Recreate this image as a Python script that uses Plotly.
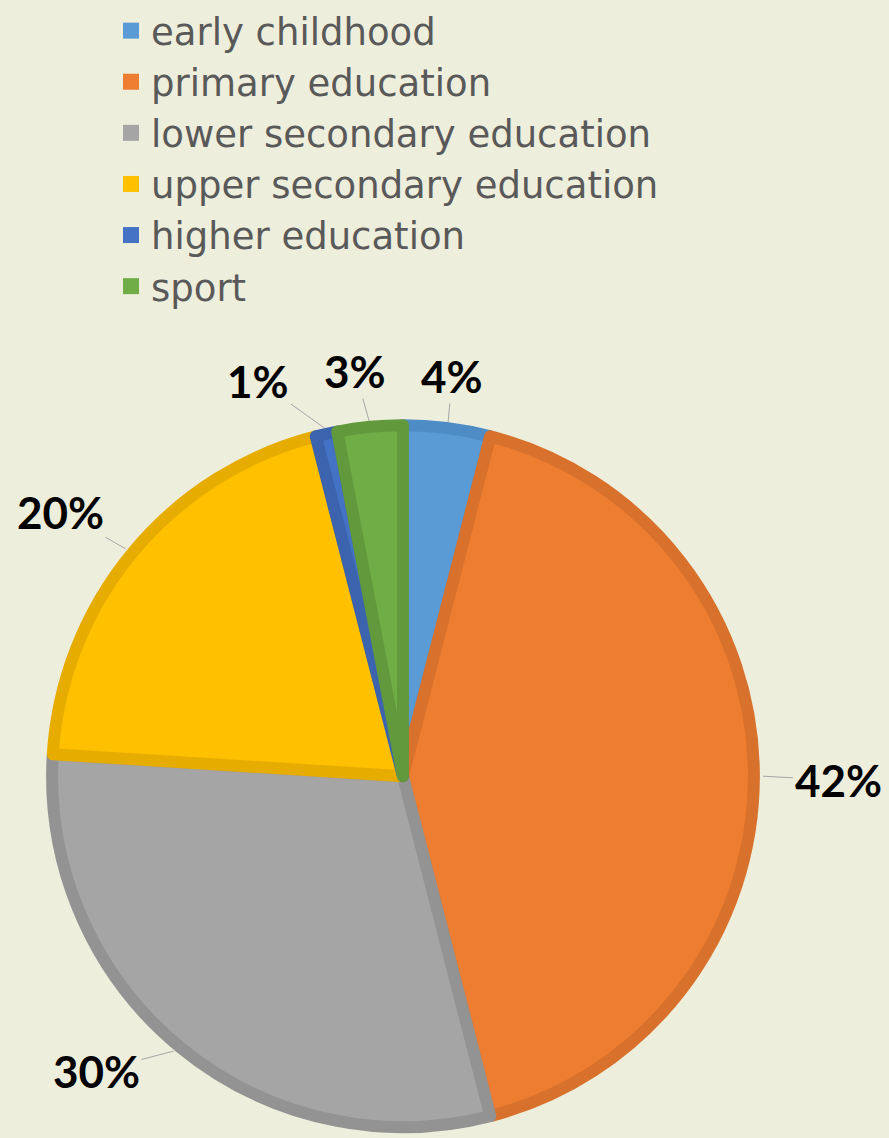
import math
import plotly.graph_objects as go

# ---- data ----
categories = ["early childhood", "primary education", "lower secondary education",
              "upper secondary education", "higher education", "sport"]
values = [4, 42, 30, 20, 1, 3]
fill_colors = ["#5B9BD5", "#ED7D31", "#A5A5A5", "#FFC000", "#4472C4", "#70AD47"]
line_colors = ["#4E8CC6", "#D8712C", "#939393", "#E6AC00", "#3B63AE", "#63993D"]
# label text offsets (pixels) from the leader-line tip on the slice edge
label_dx = [4, 75, -77, -65, -66, -14]
label_dy = [-46, 4, 20, -37, -47, -50]

W, H = 889, 1138
BG = "#EEEEDC"
CX, CY = 403, 773     # pie centre in pixels
R_OUT = 360           # outer edge of pie incl. border
LW = 12               # border width
R = R_OUT - LW / 2    # path radius

dom_x = [(CX - R) / W, (CX + R) / W]
dom_y = [1 - (CY + R) / H, 1 - (CY - R) / H]

fig = go.Figure()
fig.add_trace(go.Pie(
    labels=categories, values=values, sort=False, direction="clockwise", rotation=0,
    marker=dict(colors=fill_colors, line=dict(color=line_colors, width=LW)),
    textinfo="none", hoverinfo="label+percent", showlegend=False,
    domain=dict(x=dom_x, y=dom_y),
))

# legend entries (square markers)
for name, col in zip(categories, fill_colors):
    fig.add_trace(go.Scatter(x=[None], y=[None], mode="markers", name=name,
                             marker=dict(symbol="square", size=16, color=col)))

# percent labels with leader lines, placed from slice mid-angles
total = sum(values)
cum = 0
annotations = []
for v, dx, dy in zip(values, label_dx, label_dy):
    mid = (cum + v / 2) / total * 2 * math.pi
    cum += v
    px = CX + R_OUT * math.sin(mid)
    py = CY - R_OUT * math.cos(mid)
    annotations.append(dict(
        x=px / W, y=1 - py / H, xref="paper", yref="paper",
        text=f"{round(v / total * 100)}%", showarrow=True, arrowhead=0,
        arrowwidth=1, arrowcolor="#A6A6A6", ax=dx, ay=dy, standoff=0,
        font=dict(family="Lato", size=44, color="#000000", weight="bold"),
    ))

fig.update_layout(
    width=W, height=H, margin=dict(l=0, r=0, t=0, b=0),
    paper_bgcolor=BG, plot_bgcolor=BG,
    xaxis=dict(visible=False), yaxis=dict(visible=False),
    legend=dict(x=111 / W, y=1 + 10 / H, xanchor="left", yanchor="top",
                bgcolor="rgba(0,0,0,0)",
                font=dict(family="DejaVu Sans", size=37, color="#595959")),
    annotations=annotations,
)
fig.write_html(
    "out.html",
    config={"displayModeBar": False},
    post_script="document.body.style.margin='0px';"
                "document.body.style.background='" + BG + "';"
                "document.body.style.overflow='hidden';",
)
